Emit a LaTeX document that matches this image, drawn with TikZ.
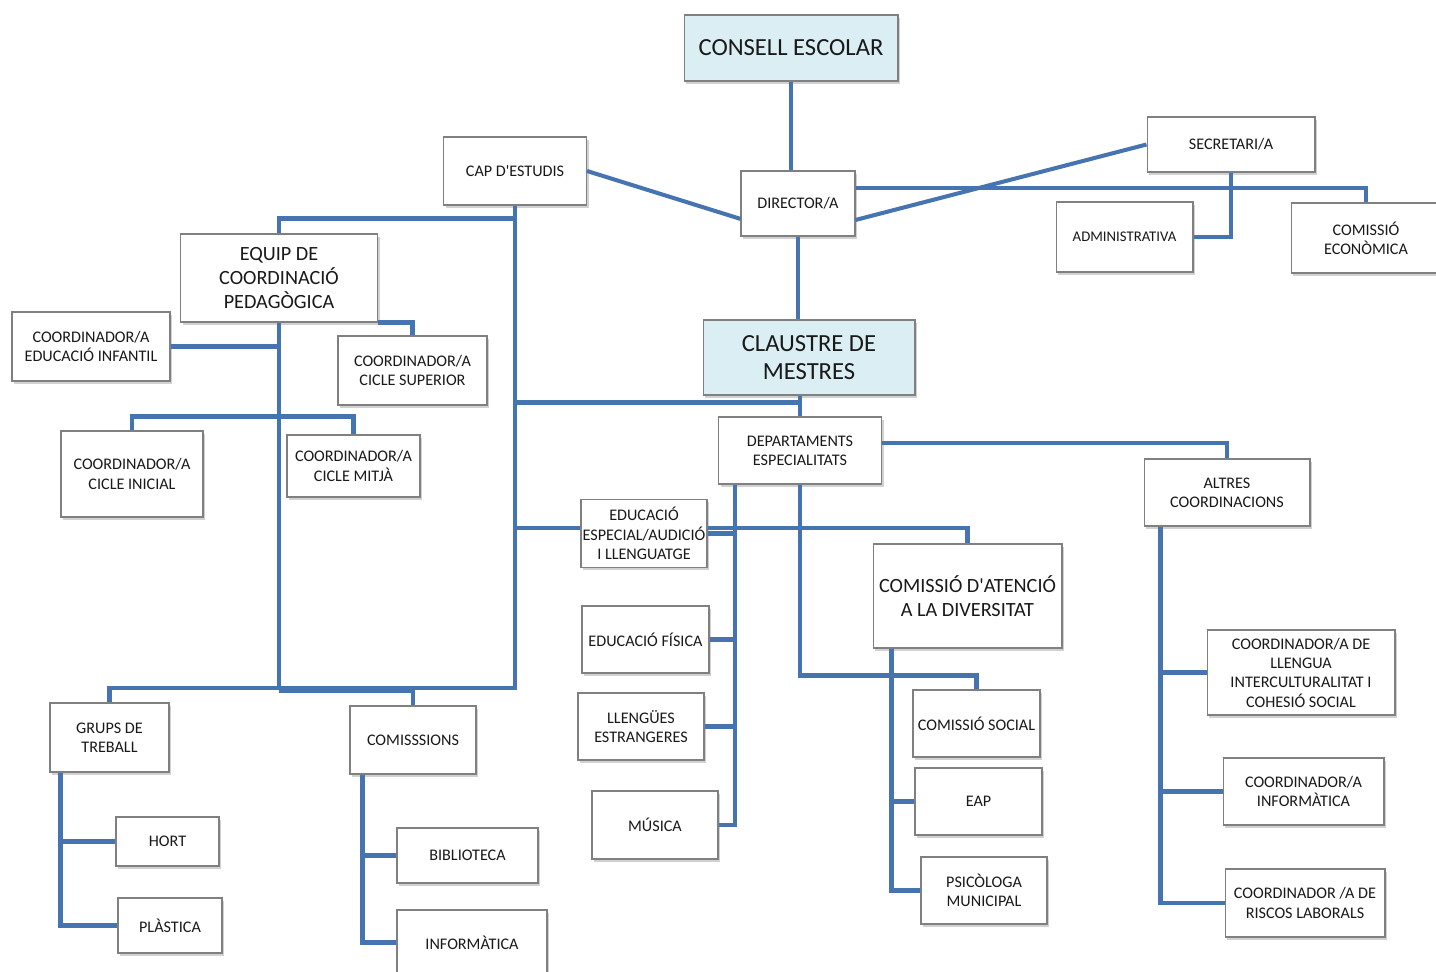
\documentclass[tikz,border=0pt]{standalone}
\usepackage{fontspec}
\setmainfont{Carlito}[Ligatures=TeXOff]
\usepackage{xcolor}
\usepackage{tikz}
\usetikzlibrary{calc}
\usetikzlibrary{positioning}
\usetikzlibrary{shadows}
\definecolor{linkblue}{RGB}{70,116,176}
\definecolor{headfill}{RGB}{218,238,243}
\definecolor{boxline}{RGB}{128,128,128}
\definecolor{boxtext}{RGB}{25,25,25}
\tikzstyle{box} = [draw = boxline, line width = 0.6pt, fill = white, inner sep = 0, align = center, text = boxtext, font = \fontsize{9.2}{11}\selectfont, drop shadow = {shadow xshift = 1.2pt, shadow yshift = -1.6pt, fill = black!60, opacity = 0.3}]
\tikzstyle{head} = [box, fill = headfill, font = \fontsize{14}{16}\selectfont]
\tikzstyle{mid} = [box, font = \fontsize{11.5}{13.6}\selectfont]
\tikzstyle{link} = [-, draw = linkblue, line width = 2.3pt]

\begin{document}
\begin{tikzpicture}[x = 0.02cm, y = -0.02cm]
\useasboundingbox (0, 0) rectangle (1436, 972);

\node [head, minimum width = 4.28cm, minimum height = 1.32cm] (consell) at (791, 48) {CONSELL ESCOLAR};
\node [box, minimum width = 2.86cm, minimum height = 1.36cm] (cap) at (515, 171) {CAP D'ESTUDIS};
\node [box, minimum width = 2.28cm, minimum height = 1.30cm] (director) at (798, 203.5) {DIRECTOR/A};
\node [box, minimum width = 3.36cm, minimum height = 1.10cm] (secretari) at (1231, 144.5) {SECRETARI/A};
\node [box, minimum width = 2.74cm, minimum height = 1.40cm, font = \fontsize{8.4}{10}\selectfont] (admin) at (1124.5, 237) {ADMINISTRATIVA};
\node [box, minimum width = 3.00cm, minimum height = 1.40cm] (comeco) at (1366, 238) {COMISSIÓ\\ECONÒMICA};
\node [mid, minimum width = 3.94cm, minimum height = 1.76cm] (equip) at (279, 278) {EQUIP DE\\COORDINACIÓ\\PEDAGÒGICA};
\node [box, minimum width = 3.16cm, minimum height = 1.38cm] (infantil) at (91, 346.5) {COORDINADOR/A\\EDUCACIÓ INFANTIL};
\node [box, minimum width = 2.98cm, minimum height = 1.38cm] (superior) at (412.5, 370.5) {COORDINADOR/A\\CICLE SUPERIOR};
\node [head, minimum width = 4.24cm, minimum height = 1.50cm] (claustre) at (809, 357.5) {CLAUSTRE DE\\MESTRES};
\node [box, minimum width = 2.84cm, minimum height = 1.72cm] (inicial) at (132, 474) {COORDINADOR/A\\CICLE INICIAL};
\node [box, minimum width = 2.66cm, minimum height = 1.24cm] (mitja) at (353.5, 466) {COORDINADOR/A\\CICLE MITJÀ};
\node [box, minimum width = 3.26cm, minimum height = 1.34cm] (dept) at (800, 450.5) {DEPARTAMENTS\\ESPECIALITATS};
\node [box, minimum width = 3.32cm, minimum height = 1.34cm] (altres) at (1227, 492.5) {ALTRES\\COORDINACIONS};
\node [box, minimum width = 2.52cm, minimum height = 1.36cm] (edesp) at (644, 533.5) {EDUCACIÓ\\ESPECIAL/AUDICIÓ\\I LLENGUATGE};
\node [mid, minimum width = 3.78cm, minimum height = 2.08cm] (cad) at (967.5, 596) {COMISSIÓ D'ATENCIÓ\\A LA DIVERSITAT};
\node [box, minimum width = 2.54cm, minimum height = 1.34cm] (fisica) at (645.5, 639.5) {EDUCACIÓ FÍSICA};
\node [box, minimum width = 2.52cm, minimum height = 1.34cm] (llengues) at (641, 726.5) {LLENGÜES\\ESTRANGERES};
\node [box, minimum width = 2.52cm, minimum height = 1.36cm] (musica) at (655, 825) {MÚSICA};
\node [box, minimum width = 2.38cm, minimum height = 1.38cm] (grups) at (109.5, 737.5) {GRUPS DE\\TREBALL};
\node [box, minimum width = 2.52cm, minimum height = 1.36cm] (comiss) at (413, 740) {COMISSSIONS};
\node [box, minimum width = 2.06cm, minimum height = 0.98cm] (hort) at (167.5, 841.5) {HORT};
\node [box, minimum width = 2.08cm, minimum height = 1.10cm] (plastica) at (170, 925.5) {PLÀSTICA};
\node [box, minimum width = 2.82cm, minimum height = 1.10cm] (biblio) at (467.5, 855.5) {BIBLIOTECA};
\node [box, minimum width = 3.00cm, minimum height = 1.30cm] (informatica) at (472, 942.5) {INFORMÀTICA};
\node [box, minimum width = 2.54cm, minimum height = 1.34cm] (comsoc) at (976.5, 723.5) {COMISSIÓ SOCIAL};
\node [box, minimum width = 2.54cm, minimum height = 1.34cm] (eap) at (978.5, 801.5) {EAP};
\node [box, minimum width = 2.52cm, minimum height = 1.34cm] (psico) at (984, 890.5) {PSICÒLOGA\\MUNICIPAL};
\node [box, minimum width = 3.76cm, minimum height = 1.70cm] (llengua) at (1301, 672.5) {COORDINADOR/A DE\\LLENGUA\\INTERCULTURALITAT I\\COHESIÓ SOCIAL};
\node [box, minimum width = 3.22cm, minimum height = 1.34cm] (cinfo) at (1303.5, 791.5) {COORDINADOR/A\\INFORMÀTICA};
\node [box, minimum width = 3.20cm, minimum height = 1.36cm] (riscos) at (1305, 903) {COORDINADOR /A DE\\RISCOS LABORALS};

\coordinate (base) at (279, 688);
\coordinate (gl) at ($(grups.south west)+(11,0)$);
\coordinate (ml) at ($(comiss.south west)+(13,0)$);
\coordinate (dl) at ($(dept.south west)+(17,0)$);
\coordinate (cl) at ($(cad.south west)+(19,0)$);
\coordinate (al) at ($(altres.south west)+(17,0)$);

\draw [link] (consell.south) to (consell.south |- director.north);
\draw [link] (cap.east) to (director.195);
\draw [link] (director.344) to (secretari.west);
\draw [link] (director.15) -| (comeco.north);
\draw [link] (secretari.south) |- (admin.east);
\draw [link] (director.south) to (director.south |- claustre.north);
\draw [link] (claustre.south -| dept.north) to (dept.north);
\draw [link] ($(cap.south)+(0,197)$) -| (dept.north);
\draw [link] (cap.south) |- (base);
\draw [link] (equip.south) to (base);
\draw [link] ($(cap.south)+(0,13)$) -| (equip.north);
\draw [link] (cap.south |- edesp.175) to (edesp.175);
\draw [link] (edesp.5) -| (cad.north);
\draw [link] (infantil.east) to (infantil.east -| equip.south);
\draw [link] (equip.south east) -| (superior.north);
\draw [link] (inicial.north) |- ($(equip.south)+(0,94)$) -| (mitja.north);
\draw [link] (base) -| (grups.north);
\draw [link] ($(base)+(0,3)$) -| (comiss.north);
\draw [link] (gl) |- (plastica.west);
\draw [link] (hort.west) to (hort.west -| gl);
\draw [link] (ml) |- (informatica.west);
\draw [link] (biblio.west) to (biblio.west -| ml);
\draw [link] (dl) |- (musica.east);
\draw [link] (edesp.east) to (edesp.east -| dl);
\draw [link] (fisica.east) to (fisica.east -| dl);
\draw [link] (llengues.east) to (llengues.east -| dl);
\draw [link] (dept.5) -| (altres.north);
\draw [link] (dept.south) |- ($(comsoc.north)+(0,-14)$) to (comsoc.north);
\draw [link] (cl) |- (psico.west);
\draw [link] (eap.west) to (eap.west -| cl);
\draw [link] (al) |- (riscos.west);
\draw [link] (llengua.west) to (llengua.west -| al);
\draw [link] (cinfo.west) to (cinfo.west -| al);
\end{tikzpicture}
\end{document}
